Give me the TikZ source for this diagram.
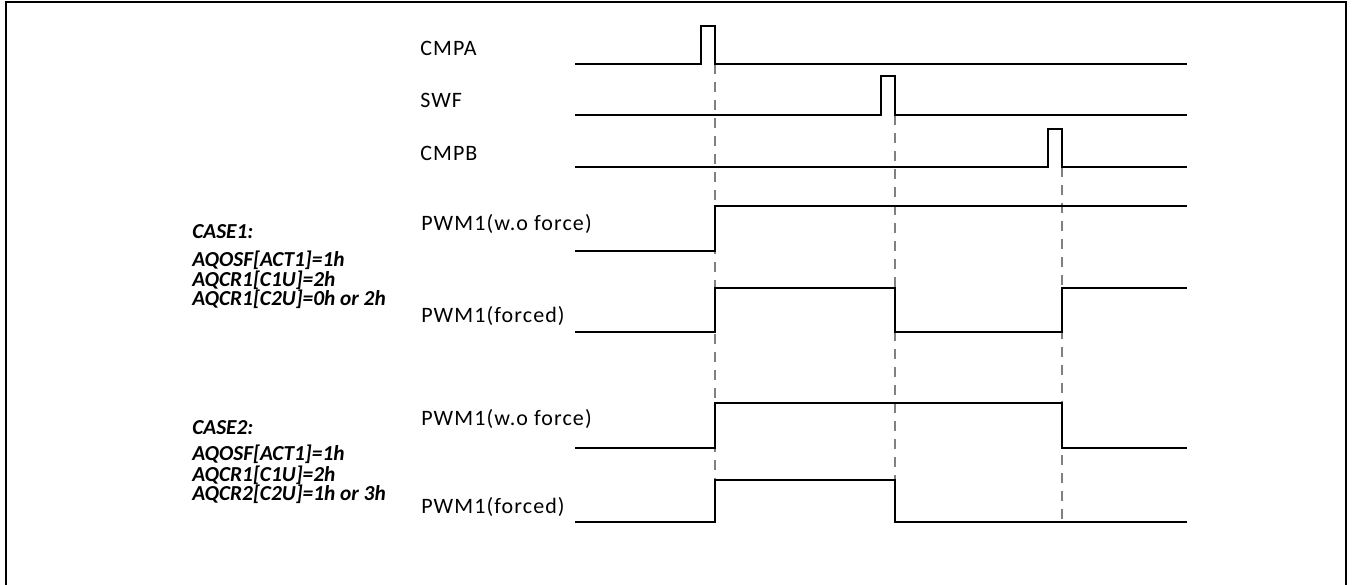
\documentclass[tikz,border=0pt]{standalone}
\usepackage{fontspec}
\setmainfont{Carlito}
\newfontfamily\sigfont[LetterSpace=5]{Carlito}
\usepackage{tikz}
\tikzset{
    wave/.style={draw, line width=1.1pt, line join=miter},     % waveform trace
    guide/.style={draw, gray, line width=0.8pt, dash pattern=on 7.5pt off 6pt}, % dashed time marker
    siglabel/.style={anchor=base west, inner sep=0pt, font=\sigfont\fontsize{16.5}{18}\selectfont},
    caselabel/.style={anchor=base west, inner sep=0pt, font=\fontsize{16}{17}\selectfont\bfseries\itshape},
    frame/.style={draw, line width=2pt}
}

\begin{document}
\begin{tikzpicture}[x=0.75pt, y=-0.75pt]
	\useasboundingbox (0,0) rectangle (1353,585);
	\draw[frame] (6,2) rectangle (1346,620);

	% signal names
	\node (cmpa) [siglabel] at (420,56) {CMPA};
	\node (swf) [siglabel] at (420,108) {SWF};
	\node (cmpb) [siglabel] at (420,160) {CMPB};
	\node (wo1) [siglabel] at (421,230) {PWM1(w.o force)};
	\node (fo1) [siglabel] at (421,322) {PWM1(forced)};
	\node (wo2) [siglabel] at (421,425) {PWM1(w.o force)};
	\node (fo2) [siglabel] at (421,513) {PWM1(forced)};

	% case settings
	\node (case1) [caselabel] at (192,238) {CASE1:};
	\node (case1a) [caselabel] at (192,266) {AQOSF[ACT1]=1h};
	\node (case1b) [caselabel] at (192,286) {AQCR1[C1U]=2h};
	\node (case1c) [caselabel] at (192,305) {AQCR1[C2U]=0h or 2h};
	\node (case2) [caselabel] at (192,434) {CASE2:};
	\node (case2a) [caselabel] at (192,460) {AQOSF[ACT1]=1h};
	\node (case2b) [caselabel] at (192,481) {AQCR1[C1U]=2h};
	\node (case2c) [caselabel] at (192,500) {AQCR2[C2U]=1h or 3h};

	% event markers
	\draw[guide] (715,64) -- (715,480);
	\draw[guide] (895,115) -- (895,522);
	\draw[guide] (1062,167) -- (1062,520);

	% waveforms
	\draw[wave] (575,64) -- (701,64) -- (701,26) -- (715,26) -- (715,64) -- (1187,64);
	\draw[wave] (575,115) -- (881,115) -- (881,76) -- (895,76) -- (895,115) -- (1187,115);
	\draw[wave] (575,167) -- (1048,167) -- (1048,129) -- (1062,129) -- (1062,167) -- (1187,167);
	\draw[wave] (575,251) -- (715,251) -- (715,206) -- (1187,206);
	\draw[wave] (575,332) -- (715,332) -- (715,288) -- (895,288) -- (895,332) -- (1062,332) -- (1062,288) -- (1187,288);
	\draw[wave] (575,448) -- (715,448) -- (715,403) -- (1062,403) -- (1062,448) -- (1187,448);
	\draw[wave] (575,522) -- (715,522) -- (715,480) -- (895,480) -- (895,522) -- (1187,522);
\end{tikzpicture}
\end{document}
